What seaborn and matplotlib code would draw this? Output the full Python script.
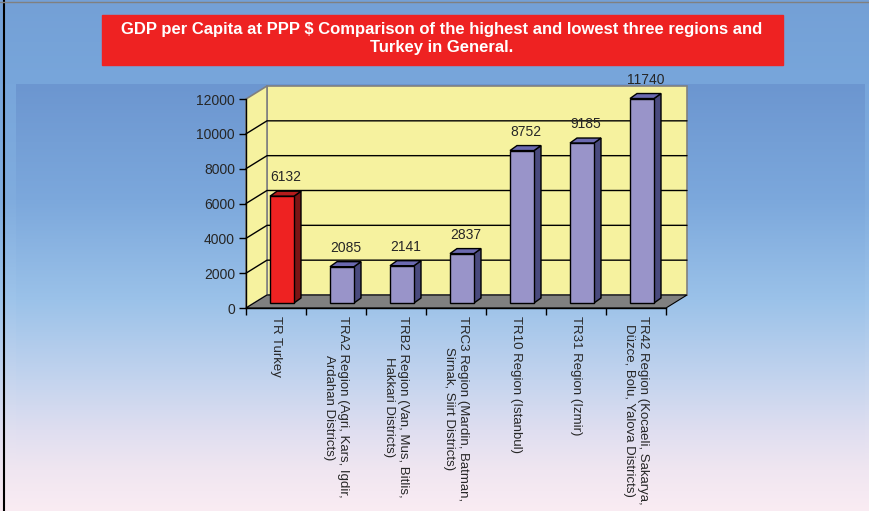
import numpy as np
import pandas as pd
import matplotlib
matplotlib.use("Agg")
import matplotlib.pyplot as plt
from matplotlib.patches import Polygon, Rectangle
import seaborn as sns

# data
regions = [
    "TR Turkey",
    "TRA2 Region (Agri, Kars, Igdir,\nArdahan Districts)",
    "TRB2 Region (Van, Mus, Bitlis,\nHakkari Districts)",
    "TRC3 Region (Mardin, Batman,\nSirnak, Siirt Districts)",
    "TR10 Region (Istanbul)",
    "TR31 Region (Izmir)",
    "TR42 Region (Kocaeli, Sakarya,\nDüzce, Bolu, Yalova Districts)",
]
gdp = [6132, 2085, 2141, 2837, 8752, 9185, 11740]
y_ticks = [0, 2000, 4000, 6000, 8000, 10000, 12000]
title = ("GDP per Capita at PPP $ Comparison of the highest and lowest three regions and\n"
         "Turkey in General.")

front_colors = ["#ee2222"] + ["#9994c9"] * 6
side_colors = ["#7a1515"] + ["#4a4a7e"] * 6
top_colors = ["#b51c1c"] + ["#6b69b0"] * 6

sns.set_style("ticks")
plt.rcParams["font.family"] = ["Liberation Sans", "DejaVu Sans"]

W, H = 869, 511
fig = plt.figure(figsize=(W / 100, H / 100), dpi=100)

# background gradient
rows = np.arange(H)
def grad(stops):
    ys = [s[0] for s in stops]
    return np.stack([np.interp(rows, ys, [s[1][i] for s in stops]) for i in range(3)], axis=1) / 255

outer = grad([(0, (116, 160, 214)), (84, (120, 166, 219)), (200, (128, 172, 222)),
              (300, (158, 196, 234)), (380, (198, 213, 238)), (430, (224, 223, 240)),
              (470, (240, 230, 241)), (511, (250, 236, 243))])
inner = grad([(0, (108, 150, 208)), (84, (108, 150, 208)), (200, (124, 168, 220)),
              (300, (155, 194, 233)), (380, (196, 212, 238)), (430, (223, 222, 240)),
              (470, (240, 230, 241)), (511, (250, 236, 243))])
img = np.repeat(outer[:, None, :], W, axis=1)
img[84:, 16:865, :] = np.repeat(inner[84:, None, :], 849, axis=1)
bg = fig.add_axes([0, 0, 1, 1])
bg.imshow(img, aspect="auto", extent=[0, W, H, 0])
bg.set_xlim(0, W)
bg.set_ylim(H, 0)
bg.axis("off")
bg.plot([3.5, 3.5], [0, H], color="black", lw=1.5)
bg.plot([0, W], [2.5, 2.5], color="#808080", lw=1)

# title box
bg.add_patch(Rectangle((102, 15), 681, 50, color="#ee2222"))
bg.text(442, 38.5, title, ha="center", va="center", color="white", fontsize=12,
        fontweight="bold", linespacing=1.3)

# main axes = front plane of the 3D box
ax = fig.add_axes([246 / W, 203 / H, 420 / W, 209 / H])
ax.set_xlim(-0.5, 6.5)
ax.set_ylim(0, 12000)
ax.patch.set_visible(False)

px = 1 / 60
py = 12000 / 209
DX, DY = 21 * px, 13 * py   # wall depth
OX, OY = 6 * px, 5 * py     # bar front offset
BX, BY = 7 * px, 5 * py     # bar depth

wall = "#f6f29f"
edge = "#808080"
ax.add_patch(Rectangle((-0.5 + DX, DY), 7, 12000, facecolor=wall, edgecolor=edge,
                       lw=1.2, clip_on=False, zorder=0))
ax.add_patch(Polygon([(-0.5, 0), (-0.5 + DX, DY), (-0.5 + DX, 12000 + DY), (-0.5, 12000)],
                     closed=True, facecolor=wall, edgecolor=edge, lw=1.2, clip_on=False, zorder=0))
ax.add_patch(Polygon([(-0.5, 0), (6.5, 0), (6.5 + DX, DY), (-0.5 + DX, DY)],
                     closed=True, facecolor="#808080", edgecolor="black", lw=0.8,
                     clip_on=False, zorder=1))
for v in y_ticks[1:-1]:
    ax.plot([-0.5, -0.5 + DX, 6.5 + DX], [v, v + DY, v + DY], color="black", lw=1,
            clip_on=False, zorder=0.5)

df = pd.DataFrame({"region": regions, "gdp": gdp})
sns.barplot(data=df, x="region", y="gdp", hue="region", palette=front_colors, legend=False,
            width=0.4, saturation=1, edgecolor="black", linewidth=1, ax=ax, zorder=3)

bars = sorted([b for c in ax.containers for b in c], key=lambda p: p.get_x())
for i, p in enumerate(bars):
    x0 = p.get_x() + OX
    w = p.get_width()
    h = p.get_height()
    p.set_x(x0)
    p.set_y(OY)
    p.set_clip_on(False)
    ax.add_patch(Polygon([(x0 + w, OY), (x0 + w + BX, OY + BY), (x0 + w + BX, OY + BY + h),
                          (x0 + w, OY + h)], closed=True, facecolor=side_colors[i],
                         edgecolor="black", lw=1, clip_on=False, zorder=2.9))
    ax.add_patch(Polygon([(x0, OY + h), (x0 + w, OY + h), (x0 + w + BX, OY + h + BY),
                          (x0 + BX, OY + h + BY)], closed=True, facecolor=top_colors[i],
                         edgecolor="black", lw=1, clip_on=False, zorder=2.9))
    ax.annotate(str(gdp[i]), xy=(x0 + w / 2 + BX / 2, OY + h + BY), xytext=(0, 5),
                textcoords="offset points", ha="center", va="bottom", fontsize=10,
                annotation_clip=False)

for s in ["top", "right"]:
    ax.spines[s].set_visible(False)
ax.spines["left"].set_color("black")
ax.spines["bottom"].set_color("black")
ax.spines["left"].set_linewidth(1)
ax.spines["bottom"].set_linewidth(1)
ax.spines["left"].set_zorder(4)
ax.spines["bottom"].set_zorder(4)

ax.set_yticks(y_ticks)
ax.set_yticklabels([str(v) for v in y_ticks], fontsize=10)
ax.tick_params(axis="y", length=5, width=1, color="black", pad=3)
ax.set_xticks(range(len(regions)))
ax.set_xticklabels(regions, rotation=270, ha="center", va="top", fontsize=9.5,
                   multialignment="center", linespacing=1.3)
ax.set_xticks(np.arange(-0.5, 7, 1), minor=True)
ax.tick_params(axis="x", which="major", length=0, pad=6)
ax.tick_params(axis="x", which="minor", length=5, width=1, color="black")
ax.set_xlabel("")
ax.set_ylabel("")

fig.savefig("out.png", dpi=100)
